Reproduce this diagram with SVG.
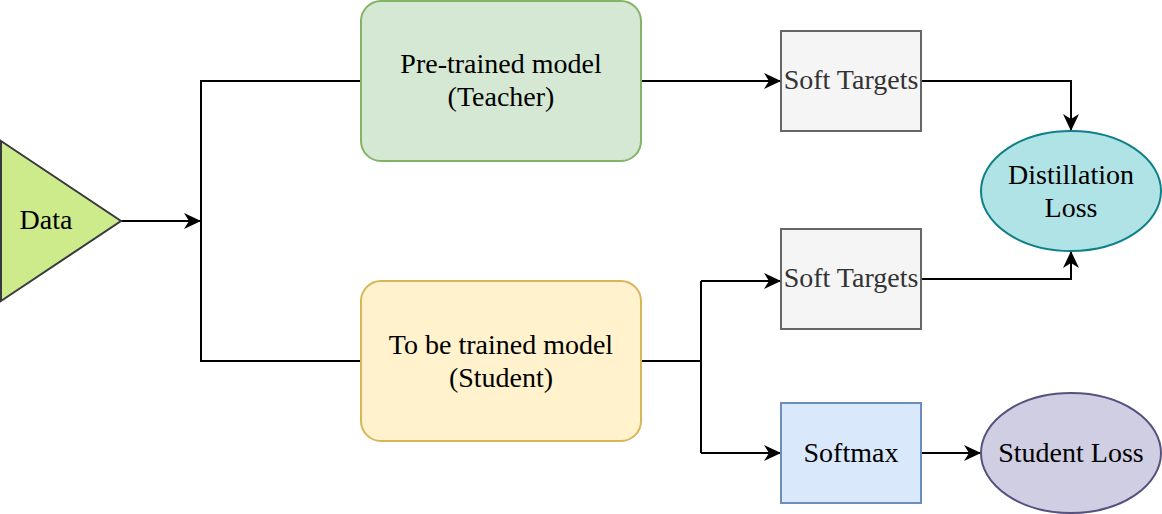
<svg xmlns="http://www.w3.org/2000/svg" width="1162" height="514" viewBox="0 0 1162 514">
<style>
text{font-family:"Liberation Serif","Times New Roman",serif;font-size:28px;fill:#000;text-anchor:middle}
.st text{fill:#333333}
.conn{fill:none;stroke:#000;stroke-width:2}
.ns{stroke-width:2}
</style>
<defs>
<marker id="arr" markerUnits="userSpaceOnUse" markerWidth="20" markerHeight="20" viewBox="0 0 20 20" refX="18" refY="10" orient="auto"><path d="M1,2 L18,10 L1,18 L6,10 Z" fill="#000"/></marker>
</defs>
<rect width="1162" height="514" fill="#fff"/>
<g id="connectors">
<path class="conn" d="M121,221 H201" marker-end="url(#arr)"/>
<path class="conn" d="M361,81 H201 V361 H361"/>
<path class="conn" d="M641,81 H781" marker-end="url(#arr)"/>
<path class="conn" d="M921,81 H1071 V131" marker-end="url(#arr)"/>
<path class="conn" d="M641,361 H701"/>
<path class="conn" d="M701,281 V453"/>
<path class="conn" d="M701,281 H781" marker-end="url(#arr)"/>
<path class="conn" d="M701,453 H781" marker-end="url(#arr)"/>
<path class="conn" d="M921,279 H1071 V251" marker-end="url(#arr)"/>
<path class="conn" d="M921,453 H981" marker-end="url(#arr)"/>
</g>
<g id="data">
<polygon class="ns" points="1,141 121,221 1,301" fill="#cdeb8b" stroke="#36393d"/>
<text x="46" y="229">Data</text>
</g>
<g id="teacher">
<rect class="ns" x="361" y="1" width="280" height="160" rx="20" fill="#d5e8d4" stroke="#82b366"/>
<text x="501" y="73">Pre-trained model</text>
<text x="501" y="106">(Teacher)</text>
</g>
<g id="student">
<rect class="ns" x="361" y="281" width="280" height="160" rx="20" fill="#fff2cc" stroke="#d6b656"/>
<text x="501" y="354">To be trained model</text>
<text x="501" y="387">(Student)</text>
</g>
<g id="soft-targets-teacher" class="st">
<rect class="ns" x="781" y="31" width="140" height="100" fill="#f5f5f5" stroke="#666666"/>
<text x="851" y="89">Soft Targets</text>
</g>
<g id="soft-targets-student" class="st">
<rect class="ns" x="781" y="229" width="140" height="100" fill="#f5f5f5" stroke="#666666"/>
<text x="851" y="287">Soft Targets</text>
</g>
<g id="softmax">
<rect class="ns" x="781" y="403" width="140" height="100" fill="#dae8fc" stroke="#6c8ebf"/>
<text x="851" y="462">Softmax</text>
</g>
<g id="distillation-loss">
<ellipse class="ns" cx="1071" cy="191" rx="90" ry="60" fill="#b0e3e6" stroke="#0e8088"/>
<text x="1071" y="184">Distillation</text>
<text x="1071" y="217">Loss</text>
</g>
<g id="student-loss">
<ellipse class="ns" cx="1071" cy="453" rx="90" ry="60" fill="#d0cee2" stroke="#56517e"/>
<text x="1071" y="462">Student Loss</text>
</g>
</svg>
